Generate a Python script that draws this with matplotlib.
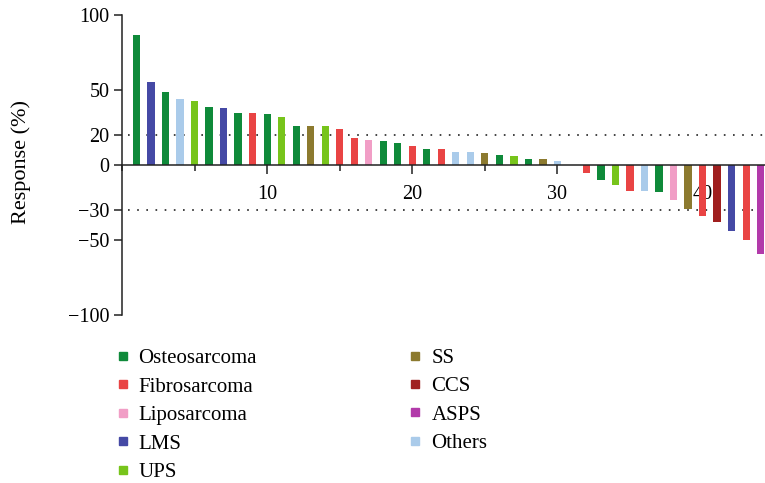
import matplotlib
matplotlib.use("Agg")
import matplotlib.pyplot as plt
from matplotlib.lines import Line2D
from matplotlib.ticker import MultipleLocator

plt.rcParams['font.family'] = ['Liberation Serif', 'DejaVu Serif']

patients = list(range(1, 45))
responses = [87, 55.5, 49, 44, 43, 39, 38, 35, 35, 34, 32, 26, 26, 26, 24,
             18, 17, 16, 15, 13, 11, 11, 9, 9, 8, 7, 6, 4, 4, 3,
             0, -5, -10, -13, -17, -17, -18, -23, -29, -34, -38, -44, -50, -59]
types = ["Osteosarcoma", "LMS", "Osteosarcoma", "Others", "UPS", "Osteosarcoma", "LMS",
         "Osteosarcoma", "Fibrosarcoma", "Osteosarcoma", "UPS", "Osteosarcoma", "SS", "UPS",
         "Fibrosarcoma", "Fibrosarcoma", "Liposarcoma", "Osteosarcoma", "Osteosarcoma",
         "Fibrosarcoma", "Osteosarcoma", "Fibrosarcoma", "Others", "Others", "SS",
         "Osteosarcoma", "UPS", "Osteosarcoma", "SS", "Others",
         "Others", "Fibrosarcoma", "Osteosarcoma", "UPS", "Fibrosarcoma", "Others", "Osteosarcoma",
         "Liposarcoma", "SS", "Fibrosarcoma", "CCS", "LMS", "Fibrosarcoma", "ASPS"]

categories = ["Osteosarcoma", "Fibrosarcoma", "Liposarcoma", "LMS", "UPS",
              "SS", "CCS", "ASPS", "Others"]
colors = {"Osteosarcoma": "#0f8a3a", "Fibrosarcoma": "#e94444", "Liposarcoma": "#f19ec6",
          "LMS": "#4549a5", "UPS": "#77c41b", "SS": "#8c7a2f", "CCS": "#a01f1f",
          "ASPS": "#b23aaa", "Others": "#aacbea"}

yticks = [100, 50, 20, 0, -30, -50, -100]
thresholds = [20, -30]

fig = plt.figure(figsize=(7.65, 4.83), dpi=100)
ax = fig.add_axes([122/765, 1 - 315/483, 1 - 122/765, 300/483])

ax.bar(patients, responses, width=0.5, color=[colors[t] for t in types], zorder=2)
for t in thresholds:
    ax.axhline(t, xmin=0.01, color='#222222', lw=1.2, ls=(0, (1, 4.5)), zorder=1)

ax.set_xlim(0, 44.3)
ax.set_ylim(-100, 100)
ax.set_yticks(yticks)
ax.set_yticklabels([str(v).replace('-', '\u2212') for v in yticks])
ax.xaxis.set_minor_locator(MultipleLocator(5))
ax.set_xticks([10, 20, 30, 40])

for s in ['top', 'right']:
    ax.spines[s].set_visible(False)
ax.spines['bottom'].set_position(('data', 0))
for s in ['left', 'bottom']:
    ax.spines[s].set_linewidth(1.1)
    ax.spines[s].set_color('#222222')

ax.tick_params(axis='y', length=6, width=1.1, labelsize=14.5, pad=3, color='#222222')
ax.tick_params(axis='x', which='major', length=6.5, width=1.1, labelsize=14.5, pad=8,
               color='#222222')
ax.tick_params(axis='x', which='minor', length=4, width=1.1, color='#222222')
fig.text(21/765, 1 - 162/483, "Response (%)", fontsize=16, rotation=90,
         ha='center', va='center')

def handle(c):
    return Line2D([], [], marker='s', ls='none', markersize=5.5,
                  markerfacecolor=colors[c], markeredgecolor=colors[c])

col1 = categories[:5]
col2 = categories[5:]
leg1 = fig.legend([handle(c) for c in col1], col1, loc='upper left',
                  bbox_to_anchor=(102/765, 1 - 338/483), frameon=False, fontsize=15,
                  borderpad=0, handletextpad=0.25, handlelength=1.0, labelspacing=0.43)
leg2 = fig.legend([handle(c) for c in col2], col2, loc='upper left',
                  bbox_to_anchor=(394/765, 1 - 338/483), frameon=False, fontsize=15,
                  borderpad=0, handletextpad=0.3, handlelength=1.0, labelspacing=0.42)

fig.savefig("out.png", dpi=100)
